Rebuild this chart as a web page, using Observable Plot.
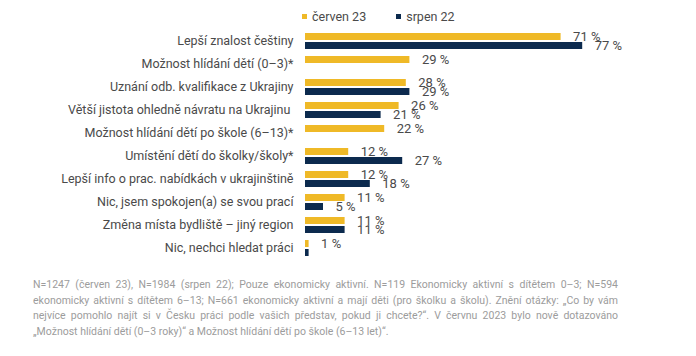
<!DOCTYPE html>
<html>
<head>
<meta charset="utf-8">
<script src="https://cdn.jsdelivr.net/npm/d3@7"></script>
<script src="https://cdn.jsdelivr.net/npm/@observablehq/plot@0.6"></script>
<style>
  html, body { margin: 0; padding: 0; background: #fff; }
  #wrap { position: relative; width: 696px; height: 356px; overflow: hidden; font-family: Roboto, sans-serif; }
  #legend { position: absolute; left: 302px; top: 9px; font-size: 12.5px; color: #4a4a4a; display: flex; gap: 0; }
  .li { display: flex; align-items: center; }
  .sw { width: 5px; height: 5px; margin-right: 5px; }
  #chart { position: absolute; left: 0; top: 0; }
  #note { position: absolute; left: 33px; top: 277px; width: 585px; font-size: 10.5px; line-height: 15.6px; color: #9c9c9c; font-family: Roboto, sans-serif; font-weight: 400; }
  #note div { text-align: justify; text-align-last: justify; white-space: nowrap; }
  #note div.last { text-align-last: left; }
</style>
</head>
<body>
<div id="wrap">
  <div id="chart"></div>
  <div id="legend"></div>
  <div id="note"></div>
</div>
<script>
const categories = [
  "Lepší znalost češtiny",
  "Možnost hlídání dětí (0–3)*",
  "Uznání odb. kvalifikace z Ukrajiny",
  "Větší jistota ohledně návratu na Ukrajinu\u00a0",
  "Možnost hlídání dětí po škole (6–13)*",
  "Umístění dětí do školky/školy*",
  "Lepší info o prac. nabídkách v ukrajinštině",
  "Nic, jsem spokojen(a) se svou prací",
  "Změna místa bydliště – jiný region",
  "Nic, nechci hledat práci"
];
const series = ["červen 23", "srpen 22"];
const colors = ["#EFB927", "#0C2A4E"];
const cerven23 = [71, 29, 28, 26, 22, 12, 12, 11, 11, 1];
const srpen22 = [77, null, 29, 21, null, 27, 18, 5, 11, 1];
// value labels as printed in the reference (the last srpen 22 bar has none)
const srpen22Labels = ["77 %", null, "29 %", "21 %", null, "27 %", "18 %", "5 %", "11 %", null];
const noteLines = [
  "N=1247 (červen 23), N=1984 (srpen 22); Pouze ekonomicky aktivní. N=119 Ekonomicky aktivní s dítětem 0–3; N=594",
  "ekonomicky aktivní s dítětem 6–13; N=661 ekonomicky aktivní a mají děti (pro školku a školu). Znění otázky: „Co by vám",
  "nejvíce pomohlo najít si v Česku práci podle vašich představ, pokud ji chcete?“. V červnu 2023 bylo nově dotazováno",
  "„Možnost hlídání dětí (0–3 roky)“ a Možnost hlídání dětí po škole (6–13 let)“."
];

const data = [];
categories.forEach((c, i) => {
  if (cerven23[i] != null) data.push({category: c, series: series[0], value: cerven23[i], label: cerven23[i] + " %"});
  if (srpen22[i] != null) data.push({category: c, series: series[1], value: srpen22[i], label: srpen22Labels[i]});
});

const chart = Plot.plot({
  width: 696,
  height: 266,
  marginTop: 29,
  marginBottom: 6,
  marginLeft: 305,
  marginRight: 31,
  style: {fontFamily: "Roboto, sans-serif", fontSize: "12px", color: "#4a4a4a", background: "transparent"},
  x: {domain: [0, 100], axis: null},
  y: {domain: series, axis: null, paddingInner: 0.25, paddingOuter: 0},
  fy: {domain: categories, paddingInner: 0.24, paddingOuter: 0.12, label: null},
  color: {domain: series, range: colors},
  marks: [
    Plot.axisFy({anchor: "left", tickSize: 0, tickPadding: 12, label: null, fontSize: 12.5}),
    Plot.barX(data, {fy: "category", y: "series", x: "value", fill: "series"}),
    Plot.text(data.filter(d => d.label), {fy: "category", y: "series", x: "value", text: "label", textAnchor: "start", dx: 12, fill: "#4a4a4a", fontSize: 13})
  ]
});
document.getElementById("chart").appendChild(chart);

const legend = document.getElementById("legend");
series.forEach((s, i) => {
  const item = document.createElement("div");
  item.className = "li";
  item.style.marginRight = i === 0 ? "30px" : "0";
  const sw = document.createElement("span");
  sw.className = "sw";
  sw.style.background = colors[i];
  const t = document.createElement("span");
  t.textContent = s;
  item.appendChild(sw);
  item.appendChild(t);
  legend.appendChild(item);
});

const note = document.getElementById("note");
noteLines.forEach((l, i) => {
  const d = document.createElement("div");
  d.textContent = l;
  if (i === noteLines.length - 1) d.className = "last";
  note.appendChild(d);
});
</script>
</body>
</html>
